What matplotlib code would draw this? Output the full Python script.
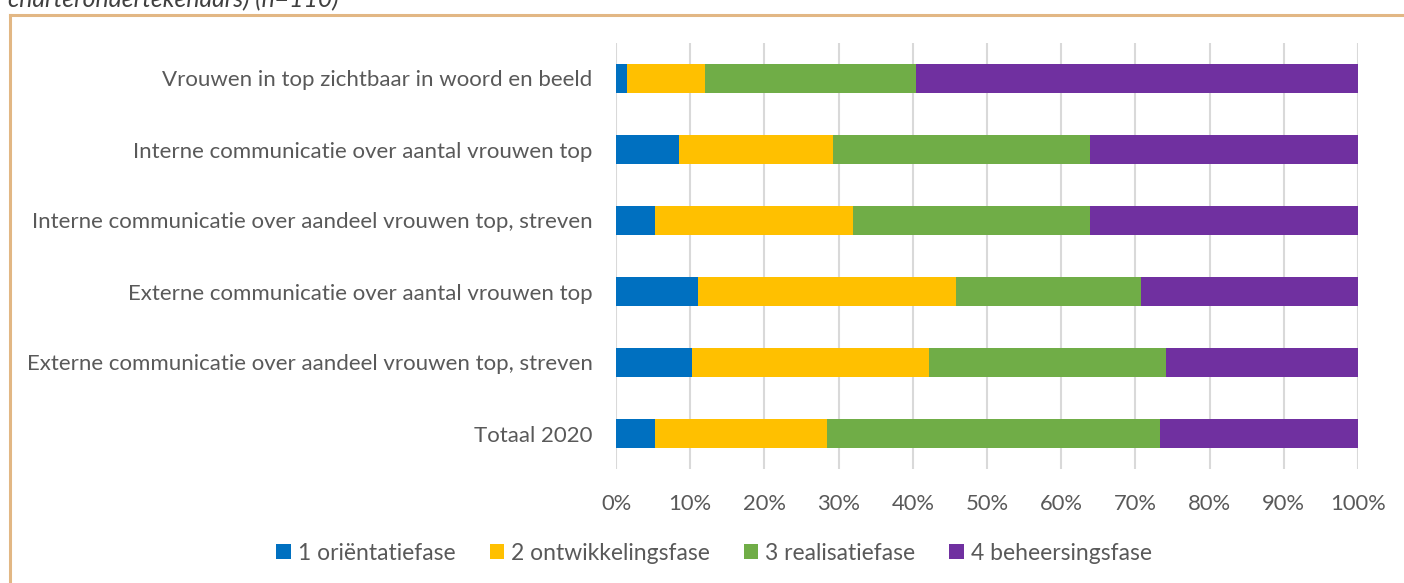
import matplotlib
matplotlib.use("Agg")
import matplotlib.pyplot as plt
from matplotlib.lines import Line2D

plt.rcParams['font.family'] = ['Lato', 'DejaVu Sans']

# categories, top to bottom
categories = [
    "Vrouwen in top zichtbaar in woord en beeld",
    "Interne communicatie over aantal vrouwen top",
    "Interne communicatie over aandeel vrouwen top, streven",
    "Externe communicatie over aantal vrouwen top",
    "Externe communicatie over aandeel vrouwen top, streven",
    "Totaal 2020",
]

# share per phase (%)
fase1 = [1.5, 8.5, 5.2, 11.1, 10.2, 5.2]
fase2 = [10.5, 20.8, 26.7, 34.7, 32.0, 23.3]
fase3 = [28.4, 34.6, 32.0, 25.0, 31.9, 44.8]
fase4 = [59.6, 36.1, 36.1, 29.2, 25.9, 26.7]

series_names = ["1 oriëntatiefase", "2 ontwikkelingsfase", "3 realisatiefase", "4 beheersingsfase"]
colors = ["#0070C0", "#FFC000", "#70AD47", "#7030A0"]
xticks = [0, 10, 20, 30, 40, 50, 60, 70, 80, 90, 100]

text_col = "#595959"
W, H = 1404, 583

fig = plt.figure(figsize=(W / 100, H / 100), dpi=100)
ax = fig.add_axes([616 / W, 1 - 469 / H, 742 / W, 426 / H])

y = list(range(len(categories)))
left = [0] * len(categories)
for vals, name, col in zip([fase1, fase2, fase3, fase4], series_names, colors):
    ax.barh(y, vals, left=left, height=0.4, color=col, label=name, zorder=3)
    left = [l + v for l, v in zip(left, vals)]

ax.set_ylim(len(categories) - 0.5, -0.5)
ax.set_xlim(0, 100)
ax.set_yticks(y)
ax.set_yticklabels(categories, fontsize=16)
ax.set_xticks(xticks)
ax.set_xticklabels([f"{t}%" for t in xticks], fontsize=15.8)
ax.tick_params(axis='both', length=0, colors=text_col)
ax.tick_params(axis='y', pad=17)
ax.tick_params(axis='x', pad=18)
ax.grid(axis='x', color="#D9D9D9", linewidth=1.5, zorder=0)
for s in ax.spines.values():
    s.set_visible(False)

leg = fig.legend(loc='center', bbox_to_anchor=(714 / W, 1 - 553 / H), ncol=4,
                 frameon=False, fontsize=16.5, handlelength=0.62, handleheight=0.62,
                 handletextpad=0.3, columnspacing=1.5)
for t in leg.get_texts():
    t.set_color(text_col)

# frame around the chart (continues past the right and bottom edge)
frame_col = "#E2B784"
fig.add_artist(Line2D([9.5 / W, 1], [1 - 14.5 / H, 1 - 14.5 / H], color=frame_col,
                      linewidth=2.2, transform=fig.transFigure))
fig.add_artist(Line2D([9.5 / W, 9.5 / W], [0, 1 - 14.5 / H], color=frame_col,
                      linewidth=2.2, transform=fig.transFigure))

# caption above the frame, partly cut off
fig.text(8 / W, 1 - 7 / H, "charterondertekenaars) (n=110)", fontsize=17.8, style='italic',
         color="#404040", va='baseline', ha='left')

fig.savefig("out.png", dpi=100)
